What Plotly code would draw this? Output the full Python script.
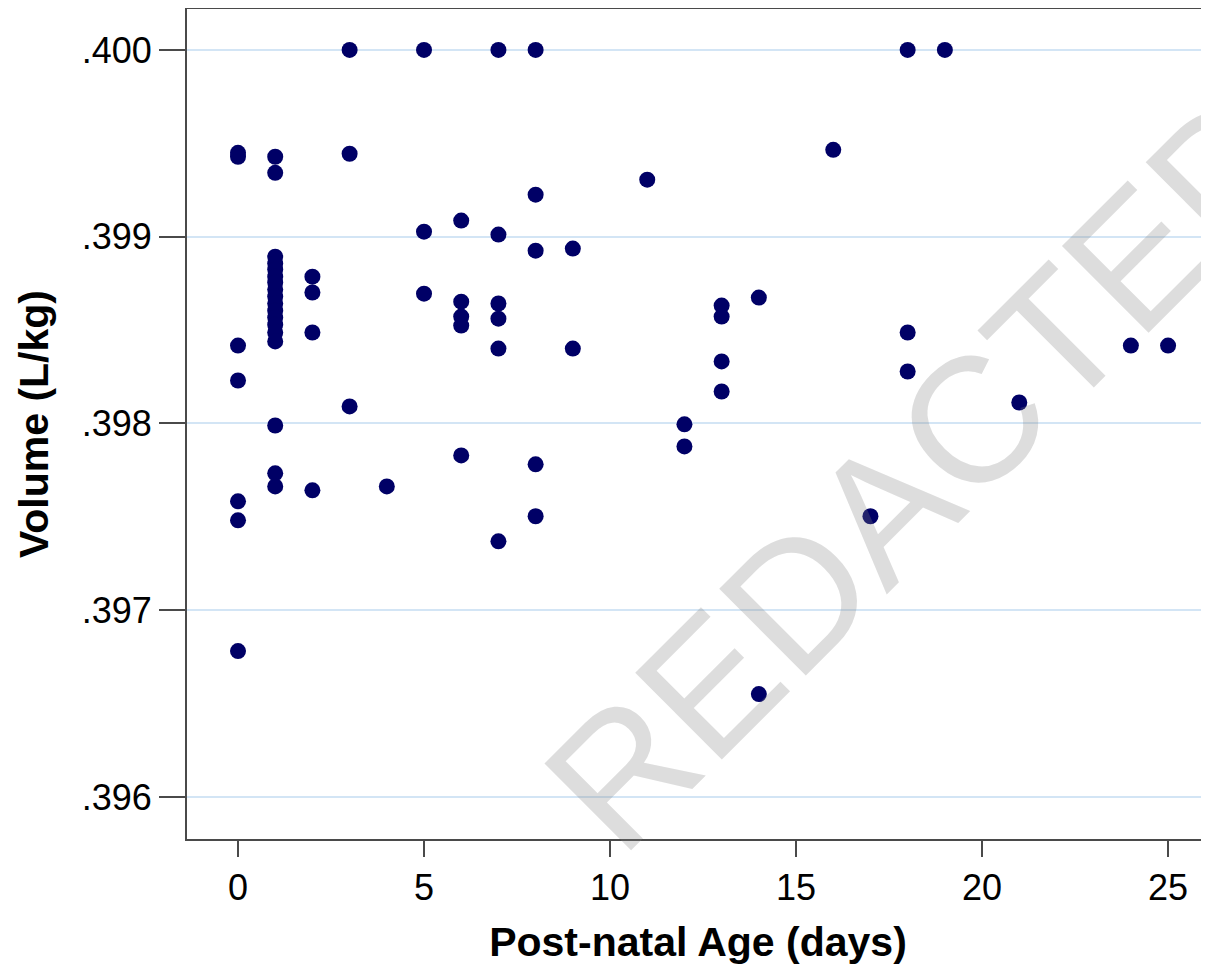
import plotly.graph_objects as go

# Data
age_days = [
    0, 0, 0, 0, 0, 0, 0,
    1, 1, 1, 1, 1, 1, 1, 1, 1, 1, 1, 1, 1, 1, 1, 1, 1, 1,
    2, 2, 2, 2,
    3, 3, 3,
    4,
    5, 5, 5,
    6, 6, 6, 6, 6,
    7, 7, 7, 7, 7, 7,
    8, 8, 8, 8, 8,
    9, 9,
    11,
    12, 12,
    13, 13, 13, 13,
    14, 14,
    16,
    17,
    18, 18, 18,
    19,
    21,
    24,
    25,
]
volume_l_per_kg = [
    0.399449, 0.399428, 0.398417, 0.398230, 0.397583, 0.397481, 0.396781,
    0.399428, 0.399342, 0.398893, 0.398856, 0.398824, 0.398786, 0.398754, 0.398717,
    0.398679, 0.398642, 0.398604, 0.398567, 0.398529, 0.398487, 0.398439,
    0.397989, 0.397733, 0.397663,
    0.398786, 0.398701, 0.398487, 0.397642,
    0.400000, 0.399444, 0.398091,
    0.397663,
    0.400000, 0.399027, 0.398695,
    0.399086, 0.398652, 0.398572, 0.398524, 0.397829,
    0.400000, 0.399011, 0.398642, 0.398561, 0.398401, 0.397369,
    0.400000, 0.399225, 0.398925, 0.397781, 0.397503,
    0.398936, 0.398401,
    0.399305,
    0.397995, 0.397877,
    0.398631, 0.398572, 0.398332, 0.398171,
    0.398674, 0.396551,
    0.399465,
    0.397503,
    0.400000, 0.398487, 0.398278,
    0.400000,
    0.398112,
    0.398417,
    0.398417,
]

x_tick_vals = [0, 5, 10, 15, 20, 25]
y_tick_vals = [0.396, 0.397, 0.398, 0.399, 0.400]
y_tick_text = [".396", ".397", ".398", ".399", ".400"]

FONT = "Liberation Sans, Arial, sans-serif"
AXIS_COLOR = "#4a4a4a"

fig = go.Figure()
fig.add_trace(go.Scatter(
    x=age_days,
    y=volume_l_per_kg,
    mode="markers",
    marker=dict(size=16, color="#000066", line=dict(width=0)),
    showlegend=False,
    hoverinfo="x+y",
))

fig.update_layout(
    width=1201,
    height=962,
    margin=dict(l=179, r=0, t=1, b=131),
    paper_bgcolor="white",
    plot_bgcolor="white",
    font=dict(family=FONT, color="black"),
    xaxis=dict(
        range=[-1.371, 26.10],
        tickvals=x_tick_vals,
        ticks="outside",
        ticklen=16,
        tickwidth=2,
        tickcolor=AXIS_COLOR,
        tickfont=dict(size=36, family=FONT, color="black"),
        showgrid=False,
        zeroline=False,
        showline=True,
        linecolor=AXIS_COLOR,
        linewidth=2,
        mirror=True,
        title=dict(text="Post-natal Age (days)",
                   font=dict(size=41, family=FONT, weight="bold", color="black"),
                   standoff=20),
        automargin=False,
    ),
    yaxis=dict(
        range=[0.395775, 0.400219],
        tickvals=y_tick_vals,
        ticktext=y_tick_text,
        ticks="outside",
        ticklen=26,
        tickwidth=2,
        tickcolor=AXIS_COLOR,
        tickfont=dict(size=36, family=FONT, color="black"),
        showgrid=True,
        gridcolor="#d3e5f5",
        gridwidth=2,
        zeroline=False,
        showline=True,
        linecolor=AXIS_COLOR,
        linewidth=2,
        mirror=False,
        title=dict(text="Volume (L/kg)",
                   font=dict(size=41, family=FONT, weight="bold", color="black"),
                   standoff=20),
        automargin=False,
    ),
    annotations=[dict(
        text="REDACTED",
        xref="paper", yref="paper",
        x=0.7211, y=0.4434,
        xanchor="center", yanchor="middle",
        showarrow=False,
        textangle=-45,
        font=dict(size=178, family=FONT, color="rgba(128,128,128,0.27)"),
    )],
)

fig.write_html("out.html")
